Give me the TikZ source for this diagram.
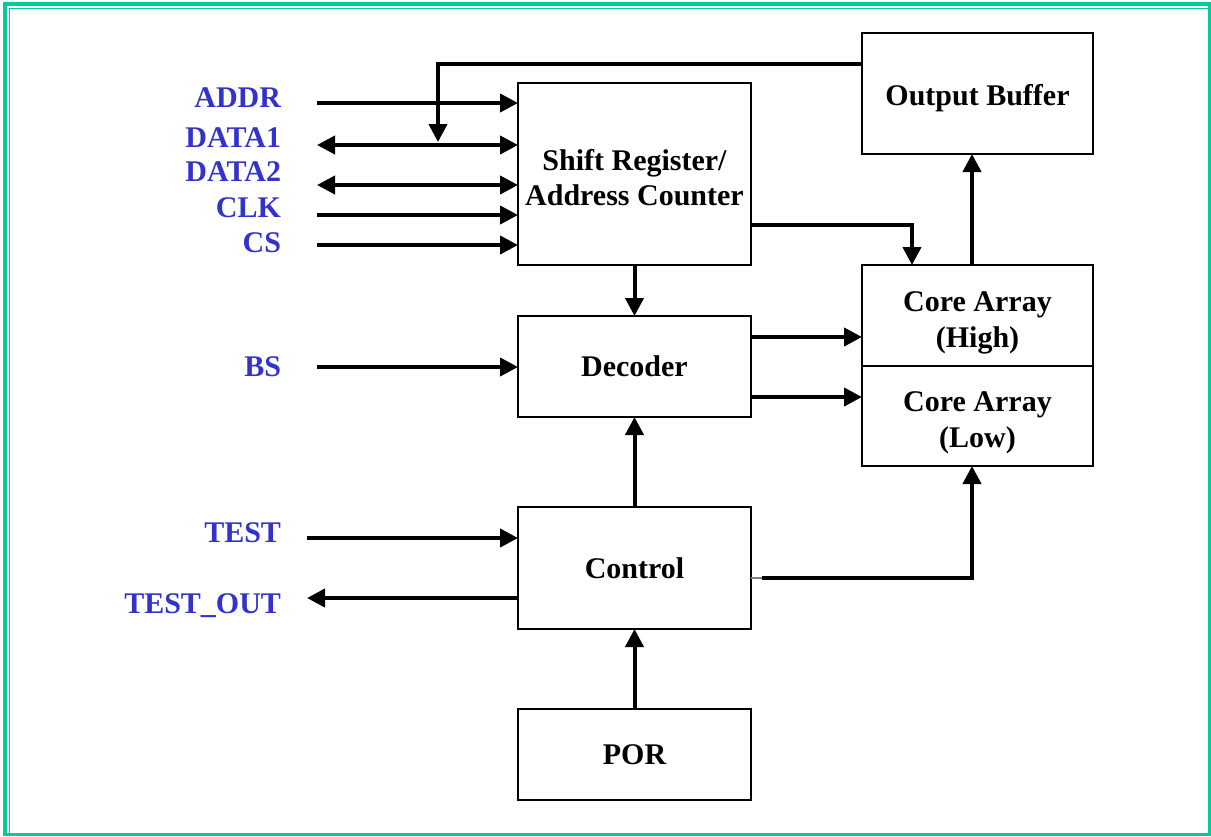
\documentclass[tikz,border=0pt]{standalone}
\usepackage{fontspec}
\setmainfont{Liberation Serif}
\usetikzlibrary{arrows.meta,positioning}

\definecolor{framegreen}{RGB}{0,204,153}
\definecolor{sigblue}{RGB}{51,51,204}

\begin{document}
\begin{tikzpicture}[x=0.5pt,y=-0.5pt,>={Triangle[length=9pt,width=9pt]},line width=2pt,
    block/.style={draw,line width=1pt,outer sep=0pt,inner sep=0pt,minimum width=116.5pt,
      align=center,font=\fontsize{15}{17.5}\selectfont\bfseries},
    core/.style={block,minimum width=115.5pt,font=\fontsize{15}{18}\selectfont\bfseries,
      text height=31.5pt,text depth=0pt},
    pin/.style={anchor=east,inner sep=0pt,text=sigblue,text height=9.9pt,text depth=0pt,
      font=\fontsize{15}{18}\selectfont\bfseries}]
    \useasboundingbox (0,0) rectangle (1211,836);

    % frame
    \draw[framegreen,line width=1.7pt] (5,836) -- (5,4) -- (1211,4);
    \draw[framegreen,line width=0.7pt] (9.5,836) -- (9.5,8.5) -- (1211,8.5);
    \draw[framegreen,line width=1.5pt] (1209.5,4) -- (1209.5,834.5) -- (5,834.5);

    % blocks
    \node[block,minimum height=91pt,text height=31.4pt,text depth=0pt] (shift) at (634.5,174) {Shift Register/\\Address Counter};
    \node[block,minimum height=50.5pt] [below=25.5pt of shift] (dec)  {Decoder};
    \node[block,minimum height=61pt]   [below=45pt of dec]     (ctrl) {Control};
    \node[block,minimum height=45.5pt] [below=40pt of ctrl]    (por)  {POR};
    \node[block,minimum width=115.5pt,minimum height=60.5pt,text height=12.4pt,text depth=0pt]
      (out) at (977.5,93.5) {Output Buffer};
    \node[core,minimum height=50.5pt] [below=55.5pt of out] (high) {Core Array\\(High)};
    \node[core,minimum height=50pt]   [below=0pt of high]   (low)  {Core Array\\(Low)};

    % signal names
    \node[pin] (addr)    at (283,98)  {ADDR};
    \node[pin] (data1)   at (283,138) {DATA1};
    \node[pin] (data2)   at (283,172) {DATA2};
    \node[pin] (clk)     at (283,208) {CLK};
    \node[pin] (cs)      at (283,243) {CS};
    \node[pin] (bs)      at (283,367) {BS};
    \node[pin] (test)    at (283,533) {TEST};
    \node[pin] (testout) at (283,604) {TEST\_OUT};

    % free ends of the pin lines
    \coordinate (addr-in)    at (317,103);
    \coordinate (data1-in)   at (317,145);
    \coordinate (data2-in)   at (317,185);
    \coordinate (clk-in)     at (317,215);
    \coordinate (cs-in)      at (317,245);
    \coordinate (bs-in)      at (317,367);
    \coordinate (test-in)    at (307,538);
    \coordinate (testout-in) at (307,598);
    \coordinate (tap)        at (438,142);

    \path[->]
      (addr-in)  edge (addr-in -| shift.west)
      (data1-in) edge [<->] (data1-in -| shift.west)
      (data2-in) edge [<->] (data2-in -| shift.west)
      (clk-in)   edge (clk-in -| shift.west)
      (cs-in)    edge (cs-in -| shift.west)
      (bs-in)    edge (bs-in -| dec.west)
      (test-in)  edge (test-in -| ctrl.west)
      ([yshift=-15pt]ctrl.west) edge (testout-in)
      (shift.south) edge (dec.north)
      (ctrl.north)  edge (dec.south)
      (por.north)   edge (ctrl.south)
      ([yshift=14.75pt]dec.east)  edge ([yshift=14.75pt]dec.east -| high.west)
      ([yshift=-15.25pt]dec.east) edge ([yshift=-15.25pt]dec.east -| low.west)
      ([xshift=-2.75pt]high.north) edge ([xshift=-2.75pt]out.south)
    ;

    \draw[->] ([yshift=15pt]out.west) -| (tap);
    \draw[->] ([yshift=-25.5pt]shift.east) -| ([xshift=-32.75pt]high.north);
    \draw[gray,line width=0.6pt] ([yshift=-5pt]ctrl.east) -- ++(11,0);
    \draw[->,shorten <=5.5pt] ([yshift=-5pt]ctrl.east) -| ([xshift=-2.75pt]low.south);
  \end{tikzpicture}
\end{document}
